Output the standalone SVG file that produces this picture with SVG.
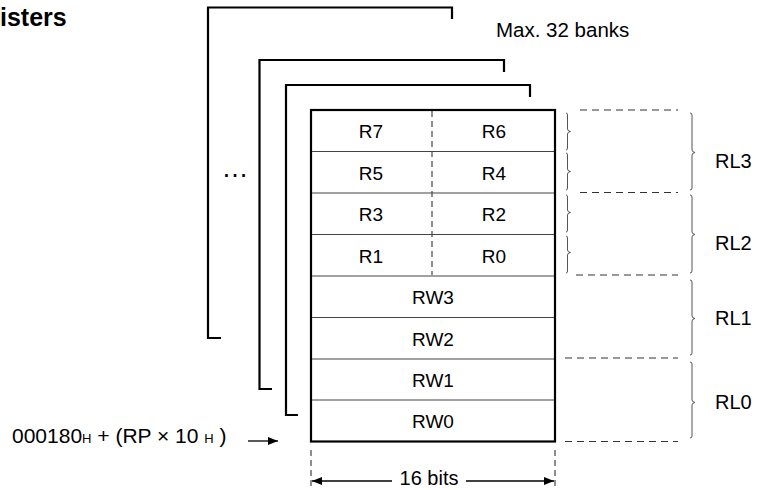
<svg xmlns="http://www.w3.org/2000/svg" width="759" height="490" viewBox="0 0 759 490">
<defs>
<style>
text{font-family:"Liberation Sans",Arial,sans-serif;fill:#000}
.frame{fill:none;stroke:#000;stroke-width:2.2}
.box{fill:#fff;stroke:#000;stroke-width:2.2}
.row{stroke:#444;stroke-width:1.2}
.vdash{stroke:#444;stroke-width:1.2;stroke-dasharray:6 4}
.hdash{stroke:#333;stroke-width:1.2;stroke-dasharray:7 5}
.brace{fill:none;stroke:#555;stroke-width:1}
.lbl{font-size:19px;text-anchor:middle}
.rl{font-size:20px}
.arrow{stroke:#000;stroke-width:1.3;fill:none}
</style>
<marker id="ah" viewBox="0 0 10 8" refX="10" refY="4" markerWidth="10" markerHeight="8" markerUnits="userSpaceOnUse" orient="auto">
<path d="M0 0 L10 4 L0 8 Z" fill="#000"/>
</marker>
</defs>
<rect width="759" height="490" fill="#fff"/>
<text x="0" y="26" style="font-size:25px;font-weight:bold">isters</text>
<g id="frames">
<path class="frame" d="M221 338 H208 V7.5 H452 V19"/>
<path class="frame" d="M272 389 H259.5 V60 H504 V72"/>
<path class="frame" d="M298 415 H286 V85 H530 V97"/>
</g>
<text x="496" y="37" style="font-size:20.5px">Max. 32 banks</text>
<text x="235" y="177" style="font-size:27px" text-anchor="middle">…</text>
<g id="registers">
<rect class="box" x="311" y="110" width="244" height="331.5"/>
<line class="row" x1="312" y1="151.5" x2="554" y2="151.5"/>
<line class="row" x1="312" y1="193" x2="554" y2="193"/>
<line class="row" x1="312" y1="234.5" x2="554" y2="234.5"/>
<line class="row" x1="312" y1="276" x2="554" y2="276"/>
<line class="row" x1="312" y1="317.5" x2="554" y2="317.5"/>
<line class="row" x1="312" y1="359" x2="554" y2="359"/>
<line class="row" x1="312" y1="400" x2="554" y2="400"/>
<line class="vdash" x1="432" y1="111" x2="432" y2="275"/>
<text class="lbl" x="371" y="138">R7</text><text class="lbl" x="494" y="138">R6</text>
<text class="lbl" x="371" y="179.5">R5</text><text class="lbl" x="494" y="179.5">R4</text>
<text class="lbl" x="371" y="221">R3</text><text class="lbl" x="494" y="221">R2</text>
<text class="lbl" x="371" y="262.5">R1</text><text class="lbl" x="494" y="262.5">R0</text>
<text class="lbl" x="433" y="304">RW3</text>
<text class="lbl" x="433" y="345.5">RW2</text>
<text class="lbl" x="433" y="387">RW1</text>
<text class="lbl" x="433" y="428">RW0</text>
</g>
<g id="braces">
<path class="brace" d="M566 113 q1.5 0 1.5 2 V129 q0 2 3 2.5 q-3 0.5 -3 2.5 V148 q0 2 -1.5 2"/>
<path class="brace" d="M566 153 q1.5 0 1.5 2 V169 q0 2 3 2.5 q-3 0.5 -3 2.5 V188 q0 2 -1.5 2"/>
<path class="brace" d="M566 195 q1.5 0 1.5 2 V210 q0 2 3 2.5 q-3 0.5 -3 2.5 V230 q0 2 -1.5 2"/>
<path class="brace" d="M566 236 q1.5 0 1.5 2 V250 q0 2 3 2.5 q-3 0.5 -3 2.5 V271 q0 2 -1.5 2"/>
<path class="brace" d="M690 113 q2 0 2 2 V150 q0 2 3 2.5 q-3 0.5 -3 2.5 V188 q0 2 -2 2"/>
<path class="brace" d="M690 195 q2 0 2 2 V232 q0 2 3 2.5 q-3 0.5 -3 2.5 V271 q0 2 -2 2"/>
<path class="brace" d="M690 280 q2 0 2 2 V316 q0 2 3 2.5 q-3 0.5 -3 2.5 V353 q0 2 -2 2"/>
<path class="brace" d="M690 362 q2 0 2 2 V400 q0 2 3 2.5 q-3 0.5 -3 2.5 V436 q0 2 -2 2"/>
</g>
<g id="dashes">
<line class="hdash" x1="580" y1="110" x2="678" y2="110"/>
<line class="hdash" x1="580" y1="192.5" x2="678" y2="192.5"/>
<line class="hdash" x1="576" y1="275" x2="678" y2="275"/>
<line class="hdash" x1="565" y1="358" x2="678" y2="358" stroke-dasharray="1 4 7 4 7 4 7 4 7 4 7 4 7 4 7 4 7 4"/>
<line class="hdash" x1="565" y1="441.5" x2="678" y2="441.5" stroke-dasharray="1 4 7 4 7 4 7 4 7 4 7 4 7 4 7 4 7 4"/>
</g>
<text class="rl" x="715" y="168">RL3</text>
<text class="rl" x="715" y="250">RL2</text>
<text class="rl" x="715" y="325">RL1</text>
<text class="rl" x="715" y="409">RL0</text>
<text x="12" y="443" style="font-size:21px">000180<tspan style="font-size:13px">H</tspan> + (RP × 10 <tspan style="font-size:13px">H</tspan> )</text>
<g id="connectors">
<line class="arrow" x1="248" y1="441" x2="278" y2="441" marker-end="url(#ah)"/>
<line class="vdash" x1="311" y1="450" x2="311" y2="490"/>
<line class="vdash" x1="555" y1="450" x2="555" y2="490"/>
<line class="arrow" x1="392" y1="481" x2="312" y2="481" marker-end="url(#ah)"/>
<line class="arrow" x1="466" y1="481" x2="554" y2="481" marker-end="url(#ah)"/>
</g>
<text x="429" y="485" style="font-size:20px" text-anchor="middle">16 bits</text>
</svg>
